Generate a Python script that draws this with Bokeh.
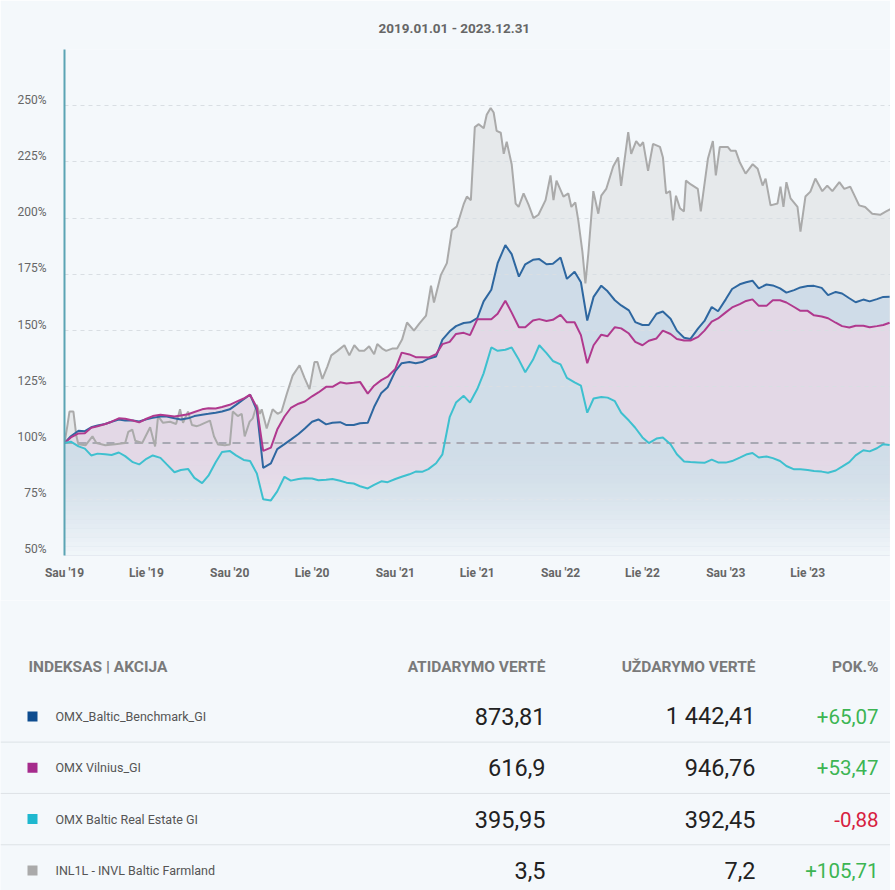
import numpy as np
import pandas as pd
from bokeh.plotting import figure
from bokeh.models import (FixedTicker, Span, BoxAnnotation, ColumnDataSource,
                          Range1d, Title)
from bokeh.core.properties import value
from bokeh.embed import file_html
from bokeh.resources import INLINE

# ---------------- data ----------------
title_text = "2019.01.01 - 2023.12.31"

# semi-monthly observation dates (1st and 15th), plus the last trading day
obs_dates = list(pd.date_range("2019-01-01", "2023-12-15", freq="SMS")) + [pd.Timestamp("2023-12-29")]

benchmark = [
    100, 103, 105.5, 105.3, 107, 107.8, 108.5, 109.5, 110.5, 110, 110, 109.6,
    110.6, 111.2, 111.8, 111.8, 111, 110.5, 111, 112, 112.6, 113, 113.5, 114,
    115, 117, 119.5, 121.5, 114.5, 89, 91, 97.3, 99.5, 101.5, 104, 106.5,
    109.5, 110.5, 108.3, 109, 109.3, 108, 108, 108.8, 109, 116, 122.3, 124.8,
    132, 135.5, 136, 135.5, 136, 137.5, 138.5, 146, 149.7, 152, 153.4, 153.7,
    155.5, 163, 168.2, 180, 188, 184, 174, 179.5, 181.5, 181.8, 179.5, 179.7,
    182.5, 173, 176.2, 171.5, 154.5, 165, 170, 167.5, 163.5, 161.2, 159, 153.8,
    152.5, 152.5, 157.5, 158.5, 155.3, 150, 146.8, 146.3, 151, 154.3, 160.5, 158.6,
    163.9, 168.5, 170.6, 171.5, 172.2, 168.8, 170.5, 170.1, 168.8, 166.9, 168, 169.2,
    169.8, 169.9, 169, 165.8, 167.2, 166.5, 164.4, 162.6, 163.8, 163, 164, 165,
    165.07]

vilnius = [
    100, 102.5, 104.3, 104.4, 106.8, 107.5, 108.5, 109.5, 111, 110.8, 110, 109.2,
    110.8, 112, 112.6, 112.3, 111.8, 112.3, 112.8, 113.8, 115, 115.5, 115.4, 116,
    117, 118.3, 119.8, 121.5, 115.8, 96.5, 98, 106, 111.8, 115.6, 117.5, 118.5,
    120.8, 122.5, 125, 125, 127, 126.5, 126.8, 127.2, 122, 125.5, 128, 129.5,
    133, 140.2, 139.4, 138.2, 138.2, 138, 139.5, 144, 145, 148.5, 149, 148,
    155, 155.1, 155.1, 157.5, 163.3, 158, 151.5, 151.5, 154.5, 155.1, 154.3, 154.8,
    157, 153.7, 153.7, 148, 135.5, 143.5, 148.2, 147.5, 151.5, 151, 148.7, 145,
    143.5, 145.5, 146.5, 150, 148.5, 146.3, 145.6, 145.6, 147.2, 150, 154, 155.4,
    158.1, 160.3, 161.8, 163.2, 163.9, 161, 161, 163.5, 163.5, 162.5, 160.5, 158.8,
    158.8, 156.8, 156.3, 155.5, 153.5, 152, 151.4, 152.2, 152.2, 151.5, 152, 152.5,
    153.47]

real_estate = [
    100, 100.6, 98.5, 97.5, 94.5, 95.3, 95, 94.7, 95.8, 94.2, 91.5, 90.5,
    93, 94.5, 93.4, 90.5, 87, 88, 88.5, 84.5, 82.2, 85.5, 91.5, 96,
    96.5, 94.5, 92.5, 92, 86.5, 75, 74.5, 78.5, 85, 83.3, 84, 84.3,
    84.2, 83.5, 83.7, 84, 83.2, 82.4, 82, 80.8, 79.8, 81.4, 83, 82.6,
    84, 85, 86.1, 87.3, 87.2, 88.4, 91, 95, 111.5, 118, 121, 118,
    124, 131, 142.5, 141, 141.5, 142.5, 137, 131.5, 137, 143.5, 140, 136.5,
    135, 129, 127, 125.5, 113.5, 119.8, 120.5, 120.2, 118.6, 113.5, 110, 106.8,
    102.5, 100, 102, 102.5, 99.5, 95, 91.8, 91.6, 91.4, 91.2, 92.6, 91.4,
    91.3, 92, 93.5, 94.9, 95.6, 93.6, 94, 93.3, 92, 89.8, 88.3, 88.3,
    88, 87.6, 87.3, 86.8, 87.8, 89.5, 91.5, 94.5, 96.8, 96.3, 97.7, 99.5,
    99.12]

# INL1L - (years since 2019-01-01, % of start value)
farmland = [
    (0.000, 100), (0.018, 108), (0.030, 114), (0.054, 114), (0.072, 103), (0.084, 99.5),
    (0.127, 99), (0.169, 103), (0.193, 100), (0.247, 99), (0.307, 99.5), (0.367, 100),
    (0.386, 105), (0.410, 106), (0.428, 101), (0.470, 100), (0.518, 107), (0.548, 98.5),
    (0.566, 112), (0.596, 109), (0.639, 109.5), (0.675, 108.5), (0.699, 115), (0.717, 109),
    (0.747, 114), (0.771, 108), (0.801, 107.5), (0.819, 108), (0.849, 109), (0.880, 110),
    (0.904, 103), (0.928, 99.4), (0.970, 99), (1.000, 99.4), (1.018, 114), (1.048, 112),
    (1.072, 113), (1.090, 103), (1.120, 109.5), (1.139, 111), (1.163, 117), (1.181, 113),
    (1.193, 115), (1.223, 106.5), (1.259, 115), (1.289, 113), (1.313, 114), (1.343, 121.5),
    (1.380, 130), (1.422, 134.6), (1.452, 129), (1.482, 124), (1.512, 136), (1.530, 136),
    (1.560, 128.5), (1.590, 134), (1.614, 139), (1.651, 141), (1.693, 143.5), (1.723, 139),
    (1.753, 143.5), (1.783, 141), (1.813, 141), (1.843, 143), (1.873, 139.5), (1.892, 144),
    (1.922, 142), (1.946, 141), (1.982, 142), (2.012, 142), (2.042, 146), (2.072, 153.6),
    (2.114, 150), (2.145, 153), (2.187, 156.7), (2.217, 170), (2.235, 162.5), (2.277, 174.8),
    (2.313, 180), (2.343, 194.6), (2.373, 196.3), (2.416, 206.5), (2.434, 209.6), (2.458, 208),
    (2.482, 240.5), (2.506, 241.8), (2.536, 240), (2.554, 246), (2.578, 249), (2.596, 247),
    (2.614, 238.8), (2.639, 238), (2.657, 228.6), (2.675, 234), (2.705, 224), (2.729, 206.5),
    (2.747, 205), (2.777, 211), (2.807, 206), (2.837, 200), (2.867, 201.5), (2.910, 208),
    (2.940, 219), (2.958, 208), (2.976, 216.7), (3.018, 209.6), (3.048, 211), (3.066, 205),
    (3.090, 207), (3.108, 199), (3.133, 185), (3.151, 171), (3.169, 184.5), (3.199, 212),
    (3.229, 202), (3.247, 210), (3.277, 213), (3.319, 223), (3.349, 227), (3.367, 214.4),
    (3.410, 238.3), (3.428, 228.6), (3.458, 234.3), (3.482, 232), (3.500, 233.8), (3.530, 221),
    (3.560, 233), (3.602, 231.7), (3.620, 227), (3.639, 211), (3.663, 212), (3.681, 199),
    (3.699, 210), (3.723, 204.4), (3.747, 203), (3.759, 216.7), (3.789, 215), (3.831, 213),
    (3.849, 203), (3.892, 226.4), (3.922, 234.3), (3.940, 219), (3.964, 231.7), (4.012, 231.7),
    (4.030, 230), (4.060, 230), (4.084, 225), (4.120, 219.8), (4.163, 224), (4.193, 222),
    (4.223, 214.5), (4.241, 217.6), (4.271, 205.7), (4.313, 206.5), (4.331, 214), (4.349, 205),
    (4.367, 216), (4.392, 208.8), (4.434, 205), (4.452, 194), (4.482, 209.6), (4.512, 211.8),
    (4.542, 217.6), (4.584, 212), (4.614, 214.5), (4.645, 212), (4.687, 216), (4.717, 213),
    (4.753, 214), (4.807, 205.7), (4.843, 205), (4.886, 202), (4.934, 201.5), (4.970, 203),
    (4.997, 204)]

y_ticks = [50, 75, 100, 125, 150, 175, 200, 225, 250]
x_tick_dates = ["2019-01-01", "2019-07-01", "2020-01-01", "2020-07-01", "2021-01-01",
                "2021-07-01", "2022-01-01", "2022-07-01", "2023-01-01", "2023-07-01"]
x_tick_labels = ["Sau '19", "Lie '19", "Sau '20", "Lie '20", "Sau '21",
                 "Lie '21", "Sau '22", "Lie '22", "Sau '23", "Lie '23"]

table_names = ["OMX_Baltic_Benchmark_GI", "OMX Vilnius_GI", "OMX Baltic Real Estate GI",
               "INL1L - INVL Baltic Farmland"]
table_open = [873.81, 616.9, 395.95, 3.5]
table_close = [1442.41, 946.76, 392.45, 7.2]
table_pct = [65.07, 53.47, -0.88, 105.71]
table_headers = ["INDEKSAS | AKCIJA", "ATIDARYMO VERTĖ", "UŽDARYMO VERTĖ", "POK.%"]

# ---------------- styling ----------------
BG = "#f4f8fb"
FONT = "Roboto"
line_colors = {"bench": "#2e67a0", "vil": "#b0398e", "re": "#3ec0cf", "farm": "#aaaaaa"}
fill_colors = {"bench": "#cfdce8", "vil": "#e3d8e6", "re": "#d0dde8", "farm": "#e6e9eb"}
square_colors = ["#0d4c8f", "#a62b8c", "#1eb8cf", "#aaaaaa"]

W = 890
start = pd.Timestamp("2019-01-01")
farm_dates = [start + pd.to_timedelta(t * 365.25, unit="D") for t, _ in farmland]
farm_vals = [v for _, v in farmland]

p = figure(width=W, height=600, output_backend="svg", toolbar_location=None,
           x_axis_type="datetime",
           x_range=Range1d(pd.Timestamp("2019-01-01"), pd.Timestamp("2023-12-31")),
           y_range=Range1d(50, 275),
           min_border_left=64, min_border_right=0, min_border_top=49, min_border_bottom=45)
p.background_fill_color = BG
p.border_fill_color = BG
p.outline_line_color = None

p.title = Title(text=title_text, align="left", text_font=FONT, text_font_size="13.5px",
                text_font_style="bold", text_color="#666666", offset=314, standoff=28)

# fills (opaque layering, under grid)
src_main = ColumnDataSource(dict(x=obs_dates, bench=benchmark, vil=vilnius, re=real_estate))
src_farm = ColumnDataSource(dict(x=farm_dates, farm=farm_vals))
r = p.varea(x="x", y1=50, y2="farm", source=src_farm, fill_color=fill_colors["farm"])
r.level = "image"
for key in ["bench", "vil", "re"]:
    r = p.varea(x="x", y1=50, y2=key, source=src_main, fill_color=fill_colors[key])
    r.level = "image"

# bottom fade
edges = np.linspace(50, 98, 25)
for lo, hi in zip(edges[:-1], edges[1:]):
    frac = 1 - ((lo + hi) / 2 - 50) / 48
    p.add_layout(BoxAnnotation(bottom=lo, top=hi, fill_color=BG, fill_alpha=0.92 * frac ** 1.6,
                               line_color=None, level="underlay"))

p.add_layout(Span(location=100, dimension="width", line_color="#a8a8b3", line_width=2,
                  line_dash="8 6", level="underlay"))

# lines
p.line(x="x", y="farm", source=src_farm, line_color=line_colors["farm"], line_width=2)
for key in ["bench", "vil", "re"]:
    p.line(x="x", y=key, source=src_main, line_color=line_colors[key], line_width=2)

# axes: labels sit ~6px above their grid lines, as in the original
label_lift = 2.67
p.yaxis.ticker = FixedTicker(ticks=[v + label_lift for v in y_ticks])
p.yaxis.major_label_overrides = {v + label_lift: f"{v}%" for v in y_ticks}
p.ygrid.ticker = FixedTicker(ticks=y_ticks + [275])
p.yaxis.axis_line_color = "#5ba4b4"
p.yaxis.axis_line_width = 2
p.yaxis.major_tick_line_color = None
p.yaxis.minor_tick_line_color = None
p.yaxis.major_label_standoff = 12
p.yaxis.major_label_text_font = FONT
p.yaxis.major_label_text_font_size = "12px"
p.yaxis.major_label_text_color = "#666666"

tick_ms = [pd.Timestamp(d).value / 1e6 for d in x_tick_dates]
p.xaxis.ticker = FixedTicker(ticks=tick_ms)
p.xaxis.major_label_overrides = {t: lab for t, lab in zip(tick_ms, x_tick_labels)}
p.xaxis.axis_line_color = None
p.xaxis.major_tick_line_color = None
p.xaxis.minor_tick_line_color = None
p.xaxis.major_label_standoff = 4
p.xaxis.major_label_text_font = FONT
p.xaxis.major_label_text_font_size = "12px"
p.xaxis.major_label_text_font_style = "bold"
p.xaxis.major_label_text_color = "#666666"

p.xgrid.visible = False
p.ygrid.grid_line_color = "#d9dee3"
p.ygrid.grid_line_dash = "4 4"
p.ygrid.grid_line_width = 1

# ---------------- table ----------------
def lt_num(v):
    s = f"{v:,.2f}"
    ip, dp = s.split(".")
    ip = ip.replace(",", "\u00a0")
    dp = dp.rstrip("0")
    return ip + ("," + dp if dp else "")

def lt_pct(v):
    sign = "+" if v > 0 else "-"
    return sign + f"{abs(v):.2f}".replace(".", ",")

t = figure(width=W, height=290, output_backend="svg", toolbar_location=None,
           x_range=Range1d(0, W), y_range=Range1d(3.392, -2.261),
           x_axis_location=None, y_axis_location=None,
           min_border=0, min_border_left=0, min_border_right=0, min_border_top=0, min_border_bottom=0)
t.background_fill_color = BG
t.border_fill_color = BG
t.outline_line_color = None
t.xgrid.visible = False
t.ygrid.visible = False

rows = list(range(len(table_names)))
tsrc = ColumnDataSource(dict(
    row=rows, name=table_names, sq=square_colors,
    open_txt=[lt_num(v) for v in table_open],
    close_txt=[lt_num(v) for v in table_close],
    pct_txt=[lt_pct(v) for v in table_pct],
    pct_col=["#3cb553" if v > 0 else "#d7213f" for v in table_pct]))

hsrc = ColumnDataSource(dict(x=[28, 545, 755, 878], y=[-0.97] * 4, text=table_headers,
                             align=["left", "right", "right", "right"]))
t.text(x="x", y="y", text="text", text_align="align", source=hsrc, text_baseline="middle",
       text_font=value(FONT), text_font_size="15.5px", text_font_style="bold", text_color="#7a7a7a")

for loc in [0.5, 1.5, 2.5]:
    t.add_layout(Span(location=loc, dimension="width", line_color="#dde2e6", line_width=1))

t.scatter(x=32, y="row", source=tsrc, marker="square", size=10, fill_color="sq", line_color=None)
t.text(x=55, y="row", text="name", source=tsrc, text_baseline="middle", text_align="left",
       text_font=value(FONT), text_font_size="12.5px", text_color="#555555")
t.text(x=545, y="row", text="open_txt", source=tsrc, text_baseline="middle", text_align="right",
       text_font=value(FONT), text_font_size="23.5px", text_color="#222222")
t.text(x=755, y="row", text="close_txt", source=tsrc, text_baseline="middle", text_align="right",
       text_font=value(FONT), text_font_size="23.5px", text_color="#222222")
t.text(x=878, y="row", text="pct_txt", source=tsrc, text_baseline="middle", text_align="right",
       text_font=value(FONT), text_font_size="20.5px", text_color="pct_col")

open("out.html", "w").write(file_html((p, t), INLINE))
